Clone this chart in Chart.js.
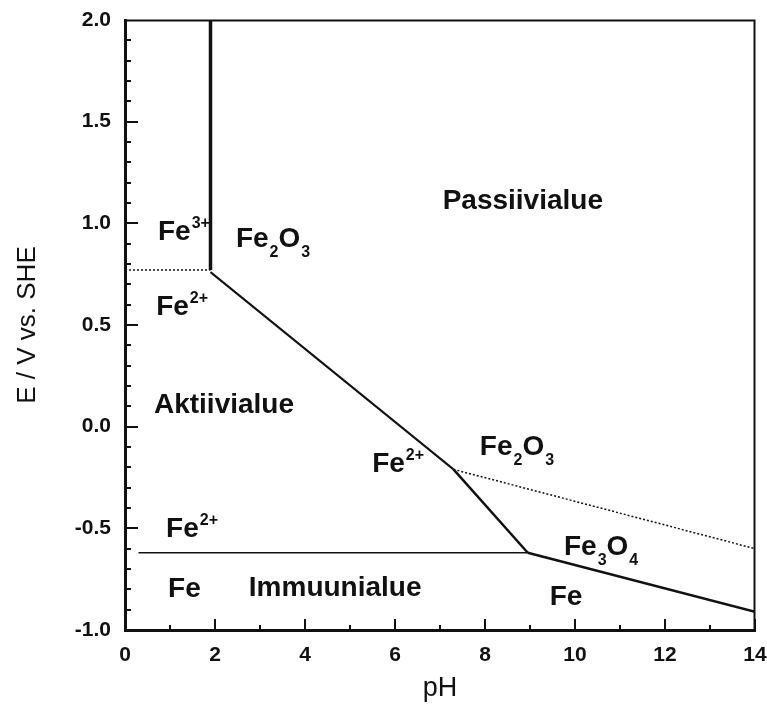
<!DOCTYPE html>
<html>
<head>
<meta charset="utf-8">
<script src="https://cdn.jsdelivr.net/npm/chart.js@4.4.1/dist/chart.umd.min.js"></script>
<style>
  html, body { margin: 0; padding: 0; background: #fff; }
  #wrap { width: 767px; height: 711px; }
</style>
</head>
<body>
<div id="wrap"><canvas id="pourbaix" width="767" height="711"></canvas></div>
<script>
// Pourbaix diagram for iron, E / V vs. SHE against pH

const phTicks = [0, 2, 4, 6, 8, 10, 12, 14];
const eTicks = [-1.0, -0.5, 0.0, 0.5, 1.0, 1.5, 2.0];

// boundary lines (pH, E pairs)
const fe3Fe2PH = [0, 1.9];
const fe3Fe2E = [0.77, 0.77];
const fe3Fe2o3PH = [1.9, 1.9];
const fe3Fe2o3E = [0.77, 2.0];
const fe2Fe2o3PH = [1.9, 7.3];
const fe2Fe2o3E = [0.76, -0.21];
const fe2Fe3o4PH = [7.3, 8.95];
const fe2Fe3o4E = [-0.21, -0.62];
const fe2FePH = [0.3, 8.95];
const fe2FeE = [-0.62, -0.62];
const fe3o4FePH = [8.95, 14];
const fe3o4FeE = [-0.62, -0.91];
const fe2o3Fe3o4PH = [7.3, 14];
const fe2o3Fe3o4E = [-0.21, -0.60];

// region labels: ^{} superscript, _{} subscript
const labelText = ['Passiivialue', 'Fe^{3+}', 'Fe_{2}O_{3}', 'Fe^{2+}', 'Aktiivialue',
  'Fe^{2+}', 'Fe_{2}O_{3}', 'Fe_{3}O_{4}', 'Fe^{2+}', 'Fe', 'Immuunialue', 'Fe'];
const labelPH = [8.84, 1.31, 3.29, 1.27, 2.2, 6.07, 8.71, 10.58, 1.49, 1.32, 4.67, 9.8];
const labelE = [1.12, 0.967, 0.933, 0.598, 0.116, -0.174, -0.09, -0.582, -0.493, -0.789, -0.784, -0.828];

const FONT = "'Liberation Sans', Arial, Helvetica, sans-serif";
const INK = '#111';

const pts = (xs, ys) => xs.map((x, i) => ({ x: x, y: ys[i] }));

function line(xs, ys, width, dash) {
  return {
    data: pts(xs, ys),
    showLine: true,
    pointRadius: 0,
    borderColor: INK,
    borderWidth: width,
    borderDash: dash || [],
    fill: false
  };
}

// frame on top/right plus inward ticks on the left/bottom axes
const frameTicks = {
  id: 'frameTicks',
  afterDatasetsDraw(chart) {
    const { ctx, chartArea: a, scales: { x, y } } = chart;
    ctx.save();
    ctx.strokeStyle = INK;
    ctx.lineWidth = 2;
    ctx.beginPath();
    ctx.moveTo(a.left, a.top + 0.5);
    ctx.lineTo(a.right - 0.5, a.top + 0.5);
    ctx.lineTo(a.right - 0.5, a.bottom);
    ctx.stroke();

    for (let i = 1; i < 30; i++) {
      const py = Math.round(y.getPixelForValue(y.min + i * 0.1));
      const len = i % 5 === 0 ? 13 : 6;
      ctx.beginPath();
      ctx.moveTo(a.left, py);
      ctx.lineTo(a.left + len, py);
      ctx.stroke();
    }
    for (let i = 1; i <= 14; i++) {
      const px = Math.round(x.getPixelForValue(i));
      const len = i % 2 === 0 ? 11 : 5;
      ctx.beginPath();
      ctx.moveTo(px, a.bottom);
      ctx.lineTo(px, a.bottom - len);
      ctx.stroke();
    }
    ctx.restore();
  }
};

function parseChem(str) {
  const parts = [];
  const re = /(\^|_)\{([^}]*)\}/g;
  let last = 0, m;
  while ((m = re.exec(str)) !== null) {
    if (m.index > last) parts.push({ t: str.slice(last, m.index), k: '' });
    parts.push({ t: m[2], k: m[1] });
    last = re.lastIndex;
  }
  if (last < str.length) parts.push({ t: str.slice(last), k: '' });
  return parts;
}

const regionLabels = {
  id: 'regionLabels',
  afterDatasetsDraw(chart) {
    const { ctx, scales: { x, y } } = chart;
    const baseFont = 'bold 28px ' + FONT;
    const smallFont = 'bold 16px ' + FONT;
    ctx.save();
    ctx.fillStyle = INK;
    ctx.textBaseline = 'alphabetic';
    ctx.textAlign = 'left';
    labelText.forEach((txt, i) => {
      const parts = parseChem(txt);
      let w = 0;
      parts.forEach(p => {
        ctx.font = p.k ? smallFont : baseFont;
        p.w = ctx.measureText(p.t).width + (p.k ? 1 : 0);
        w += p.w;
      });
      let cx = x.getPixelForValue(labelPH[i]) - w / 2;
      const base = y.getPixelForValue(labelE[i]) + 10;
      parts.forEach(p => {
        ctx.font = p.k ? smallFont : baseFont;
        const dy = p.k === '^' ? -12 : p.k === '_' ? 10 : 0;
        ctx.fillText(p.t, cx + (p.k ? 1 : 0), base + dy);
        cx += p.w;
      });
    });
    ctx.restore();
  }
};

const ctx = document.getElementById('pourbaix');
new Chart(ctx, {
  type: 'scatter',
  data: {
    datasets: [
      line(fe3Fe2PH, fe3Fe2E, 1.5, [2, 2]),
      line(fe3Fe2o3PH, fe3Fe2o3E, 3.5),
      line(fe2Fe2o3PH, fe2Fe2o3E, 2),
      line(fe2Fe3o4PH, fe2Fe3o4E, 2.5),
      line(fe2FePH, fe2FeE, 1.5),
      line(fe3o4FePH, fe3o4FeE, 2.5),
      line(fe2o3Fe3o4PH, fe2o3Fe3o4E, 1.5, [2, 2])
    ]
  },
  options: {
    responsive: false,
    devicePixelRatio: 1,
    animation: false,
    layout: { padding: { top: 20, right: 12, left: 0, bottom: 0 } },
    plugins: {
      legend: { display: false },
      tooltip: { enabled: false }
    },
    scales: {
      x: {
        type: 'linear',
        min: 0,
        max: 14,
        afterBuildTicks: s => { s.ticks = phTicks.map(v => ({ value: v })); },
        afterFit: s => { s.height = 81; s.paddingLeft = 0; s.paddingRight = 0; },
        grid: { display: false, drawTicks: false },
        border: { display: true, width: 3, color: INK },
        ticks: {
          color: INK,
          padding: 13,
          maxRotation: 0,
          font: { family: FONT, size: 21, weight: 'bold' },
          callback: v => String(v)
        },
        title: {
          display: true,
          text: 'pH',
          color: INK,
          font: { family: FONT, size: 27 },
          padding: { top: 0, bottom: 6 }
        }
      },
      y: {
        type: 'linear',
        min: -1,
        max: 2,
        afterBuildTicks: s => { s.ticks = eTicks.map(v => ({ value: v })); },
        afterFit: s => { s.width = 125; s.paddingTop = 0; s.paddingBottom = 0; },
        grid: { display: false, drawTicks: false },
        border: { display: true, width: 3, color: INK },
        ticks: {
          color: INK,
          padding: 14,
          font: { family: FONT, size: 21, weight: 'bold' },
          callback: v => Number(v).toFixed(1)
        },
        title: {
          display: true,
          text: 'E / V vs. SHE',
          color: INK,
          font: { family: FONT, size: 26 },
          padding: { top: 12, bottom: 0 }
        }
      }
    }
  },
  plugins: [frameTicks, regionLabels]
});
</script>
</body>
</html>
